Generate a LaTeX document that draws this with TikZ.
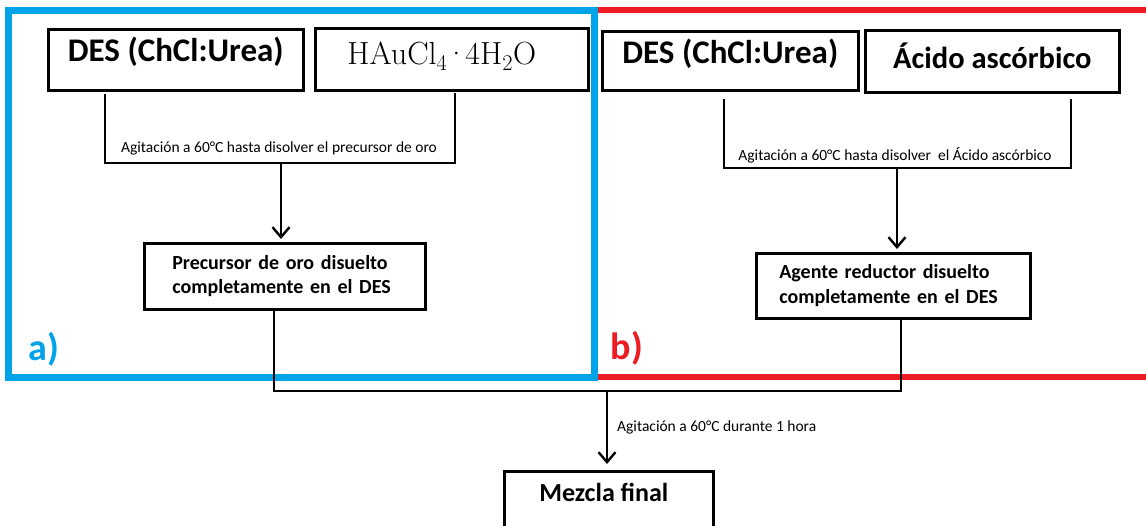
\documentclass[tikz,border=0pt]{standalone}
\usepackage{fontspec}
\setmainfont{Carlito}
\newfontfamily\lmr{Latin Modern Roman}
\usetikzlibrary{arrows.meta}
\definecolor{pblue}{RGB}{0,162,232}
\definecolor{pred}{RGB}{237,28,36}
\begin{document}
\begin{tikzpicture}[x=1pt,y=-1pt,
  box/.style={draw,line width=2.6pt,inner sep=0pt},
  big/.style={font=\fontsize{33}{38}\selectfont\bfseries},
  mid/.style={font=\fontsize{20}{24.5}\selectfont\bfseries,align=left,inner ysep=0pt},
  small/.style={font=\fontsize{15.5}{18}\selectfont,inner sep=0pt},
  conn/.style={line width=2.4pt},
  arr/.style={conn,-{Straight Barb[length=10pt,width=17pt,line width=2.4pt]}},
  tag/.style={font=\fontsize{38}{42}\selectfont\bfseries,inner sep=0pt}
]
\clip (0,0) rectangle (1146,525);
\fill[white] (0,0) rectangle (1146,525);
% panels
\draw[pred,line width=6pt] (594,10) -- (1160,10);
\draw[pred,line width=6pt] (594,377) -- (1160,377);
\draw[pblue,line width=7pt] (8.5,10.5) rectangle (594,377);
\node[tag,text=pblue] (la) at (44,349) {a)};
\node[tag,text=pred] (lb) at (627,348) {b)};
% boxes
\node[box,big,anchor=north west,minimum width=255pt,text height=32pt,text depth=29pt] (des1) at (47,28) {DES (ChCl:Urea)};
\node[box,anchor=north west,minimum width=273pt,text height=36pt,text depth=26pt,font=\fontsize{32}{36}\selectfont\lmr] (hau) at (314,27) {HAuCl\textsubscript{4}\kern-2.5pt·\kern-2.5pt4H\textsubscript{2}O\hspace*{20pt}};
\node[box,big,anchor=north west,minimum width=256pt,text height=32pt,text depth=27pt] (des2) at (601,30) {DES (ChCl:Urea)};
\node[box,anchor=north west,minimum width=254pt,text height=38pt,text depth=24pt,font=\fontsize{30.5}{36}\selectfont\bfseries] (acido) at (864,29) {Ácido ascórbico};
\node[box,mid,anchor=north west,text width=225pt,inner xsep=28pt,minimum height=66pt] (prec) at (143,242) {Precursor de oro disuelto\\completamente en el DES};
\node[box,mid,anchor=north west,text width=228pt,inner xsep=23pt,minimum height=65pt] (agente) at (755,252) {Agente reductor disuelto\\completamente en el DES};
\node[box,anchor=north west,minimum width=209pt,text height=30pt,text depth=50pt,font=\fontsize{26}{30}\selectfont\bfseries] (mezcla) at (503,470) {Mezcla final\hspace*{10pt}};
% left connectors
\coordinate (l1) at (105,94);
\coordinate (l2) at (455,93);
\coordinate (lj) at (281,163);
\draw[conn] (l1) |- (lj) -| (l2);
\draw[arr,shorten >=3pt] (lj) -- (lj |- prec.north);
\node[small] (t1) at (279,148) {Agitación a 60°C hasta disolver el precursor de oro};
% right connectors
\coordinate (r1) at (724,99);
\coordinate (r2) at (1071,99);
\coordinate (rj) at (897,168);
\draw[conn] (r1) |- (rj) -| (r2);
\draw[arr,shorten >=3pt] (rj) -- (rj |- agente.north);
\node[small] (t2) at (895,155) {Agitación a 60°C hasta disolver\ \ el Ácido ascórbico};
% bottom connectors
\coordinate (b1) at (274,308);
\coordinate (b2) at (901,317);
\coordinate (bj) at (607,391);
\draw[conn] (b1) |- (bj) -| (b2);
\draw[arr,shorten >=6pt] (bj) -- (bj |- mezcla.north);
\node[small,anchor=west] (t3) at (617,427) {Agitación a 60°C durante 1 hora};
\end{tikzpicture}
\end{document}
